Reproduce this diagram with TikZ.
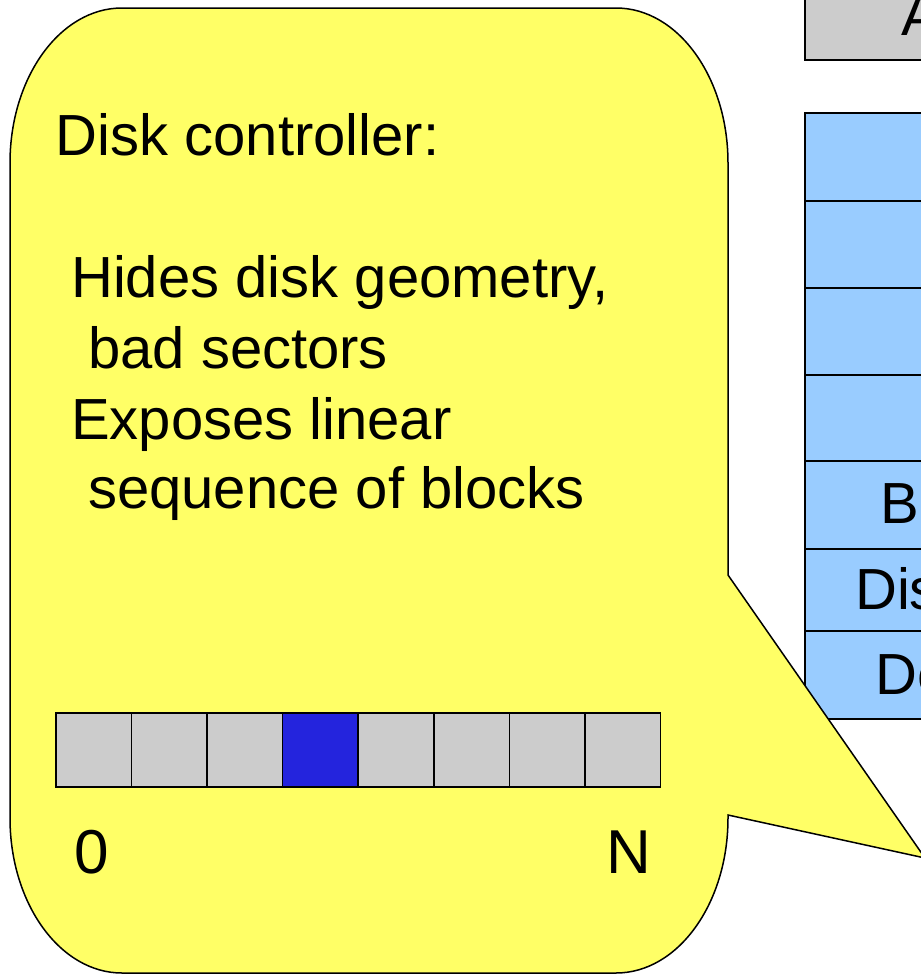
\documentclass[tikz,border=0pt]{standalone}
\usepackage{fontspec}
\setmainfont{Liberation Sans}
\definecolor{calloutyellow}{HTML}{FFFF66}
\definecolor{layerblue}{HTML}{99CCFF}
\definecolor{cellgray}{HTML}{CCCCCC}
\definecolor{cellblue}{HTML}{2424DD}
\begin{document}
\begin{tikzpicture}[x=1pt,y=1pt,
  txt/.style={inner sep=0pt, anchor=base west, font=\fontsize{58}{69}\selectfont},
  bigtxt/.style={inner sep=0pt, anchor=base west, font=\fontsize{62}{72}\selectfont},
  layer/.style={draw=black, line width=1.5pt, fill=layerblue, rectangle, inner sep=0pt, anchor=north west, minimum width=160pt},
  topbox/.style={draw=black, line width=1.5pt, fill=cellgray, rectangle, inner sep=0pt, anchor=north west, minimum width=160pt},
  cell/.style={draw=black, line width=1.5pt, fill=cellgray, rectangle, inner sep=0pt, anchor=north west, minimum width=75.6pt, minimum height=74pt},
  callout/.style={draw=black, line width=1.5pt, fill=calloutyellow, line join=miter}]
\useasboundingbox (0,0) rectangle (921,-975);

% application box (grey) and layer stack (blue)
\node[topbox, minimum height=80pt] (app) at (804,21) {};
\node[layer, minimum height=88pt] (l1) at (804,-112) {};
\node[layer, minimum height=87pt] (l2) at (804,-200) {};
\node[layer, minimum height=87pt] (l3) at (804,-287) {};
\node[layer, minimum height=86pt] (l4) at (804,-374) {};
\node[layer, minimum height=88pt] (l5) at (804,-460) {};
\node[layer, minimum height=82pt] (l6) at (804,-548) {};
\node[layer, minimum height=88pt] (l7) at (804,-630) {};

\node[txt] (tapp) at (901,-35) {A};
\node[txt] (tl5) at (880,-523) {Br};
\node[txt] (tl6) at (855,-609) {Dis};
\node[txt] (tl7) at (875,-694) {De};

% callout
\path[callout] (122,-8) -- (616,-8)
  arc[start angle=90, end angle=0, x radius=112pt, y radius=155pt]
  -- (728,-575) -- (925,-858) -- (728,-815) -- (728,-818)
  arc[start angle=0, end angle=-90, x radius=112pt, y radius=155pt]
  -- (122,-973)
  arc[start angle=270, end angle=180, x radius=112pt, y radius=155pt]
  -- (10,-163)
  arc[start angle=180, end angle=90, x radius=112pt, y radius=155pt]
  -- cycle;

\node[txt] (head) at (55.5,-155) {Disk controller:};
\node[txt] (h1) at (71,-297) {Hides disk geometry,};
\node[txt] (h2) at (88,-368) {bad sectors};
\node[txt] (h3) at (71,-439) {Exposes linear};
\node[txt] (h4) at (88,-508) {sequence of blocks};

% block row
\foreach \i in {0,...,7}{
  \node[cell] (c\i) at ({55+\i*75.6},-712) {};
}
\node[cell, fill=cellblue] (c3b) at ({55+3*75.6},-712) {};

\node[bigtxt] (zero) at (74,-873) {0};
\node[bigtxt] (enn) at (606,-873) {N};
\end{tikzpicture}
\end{document}
